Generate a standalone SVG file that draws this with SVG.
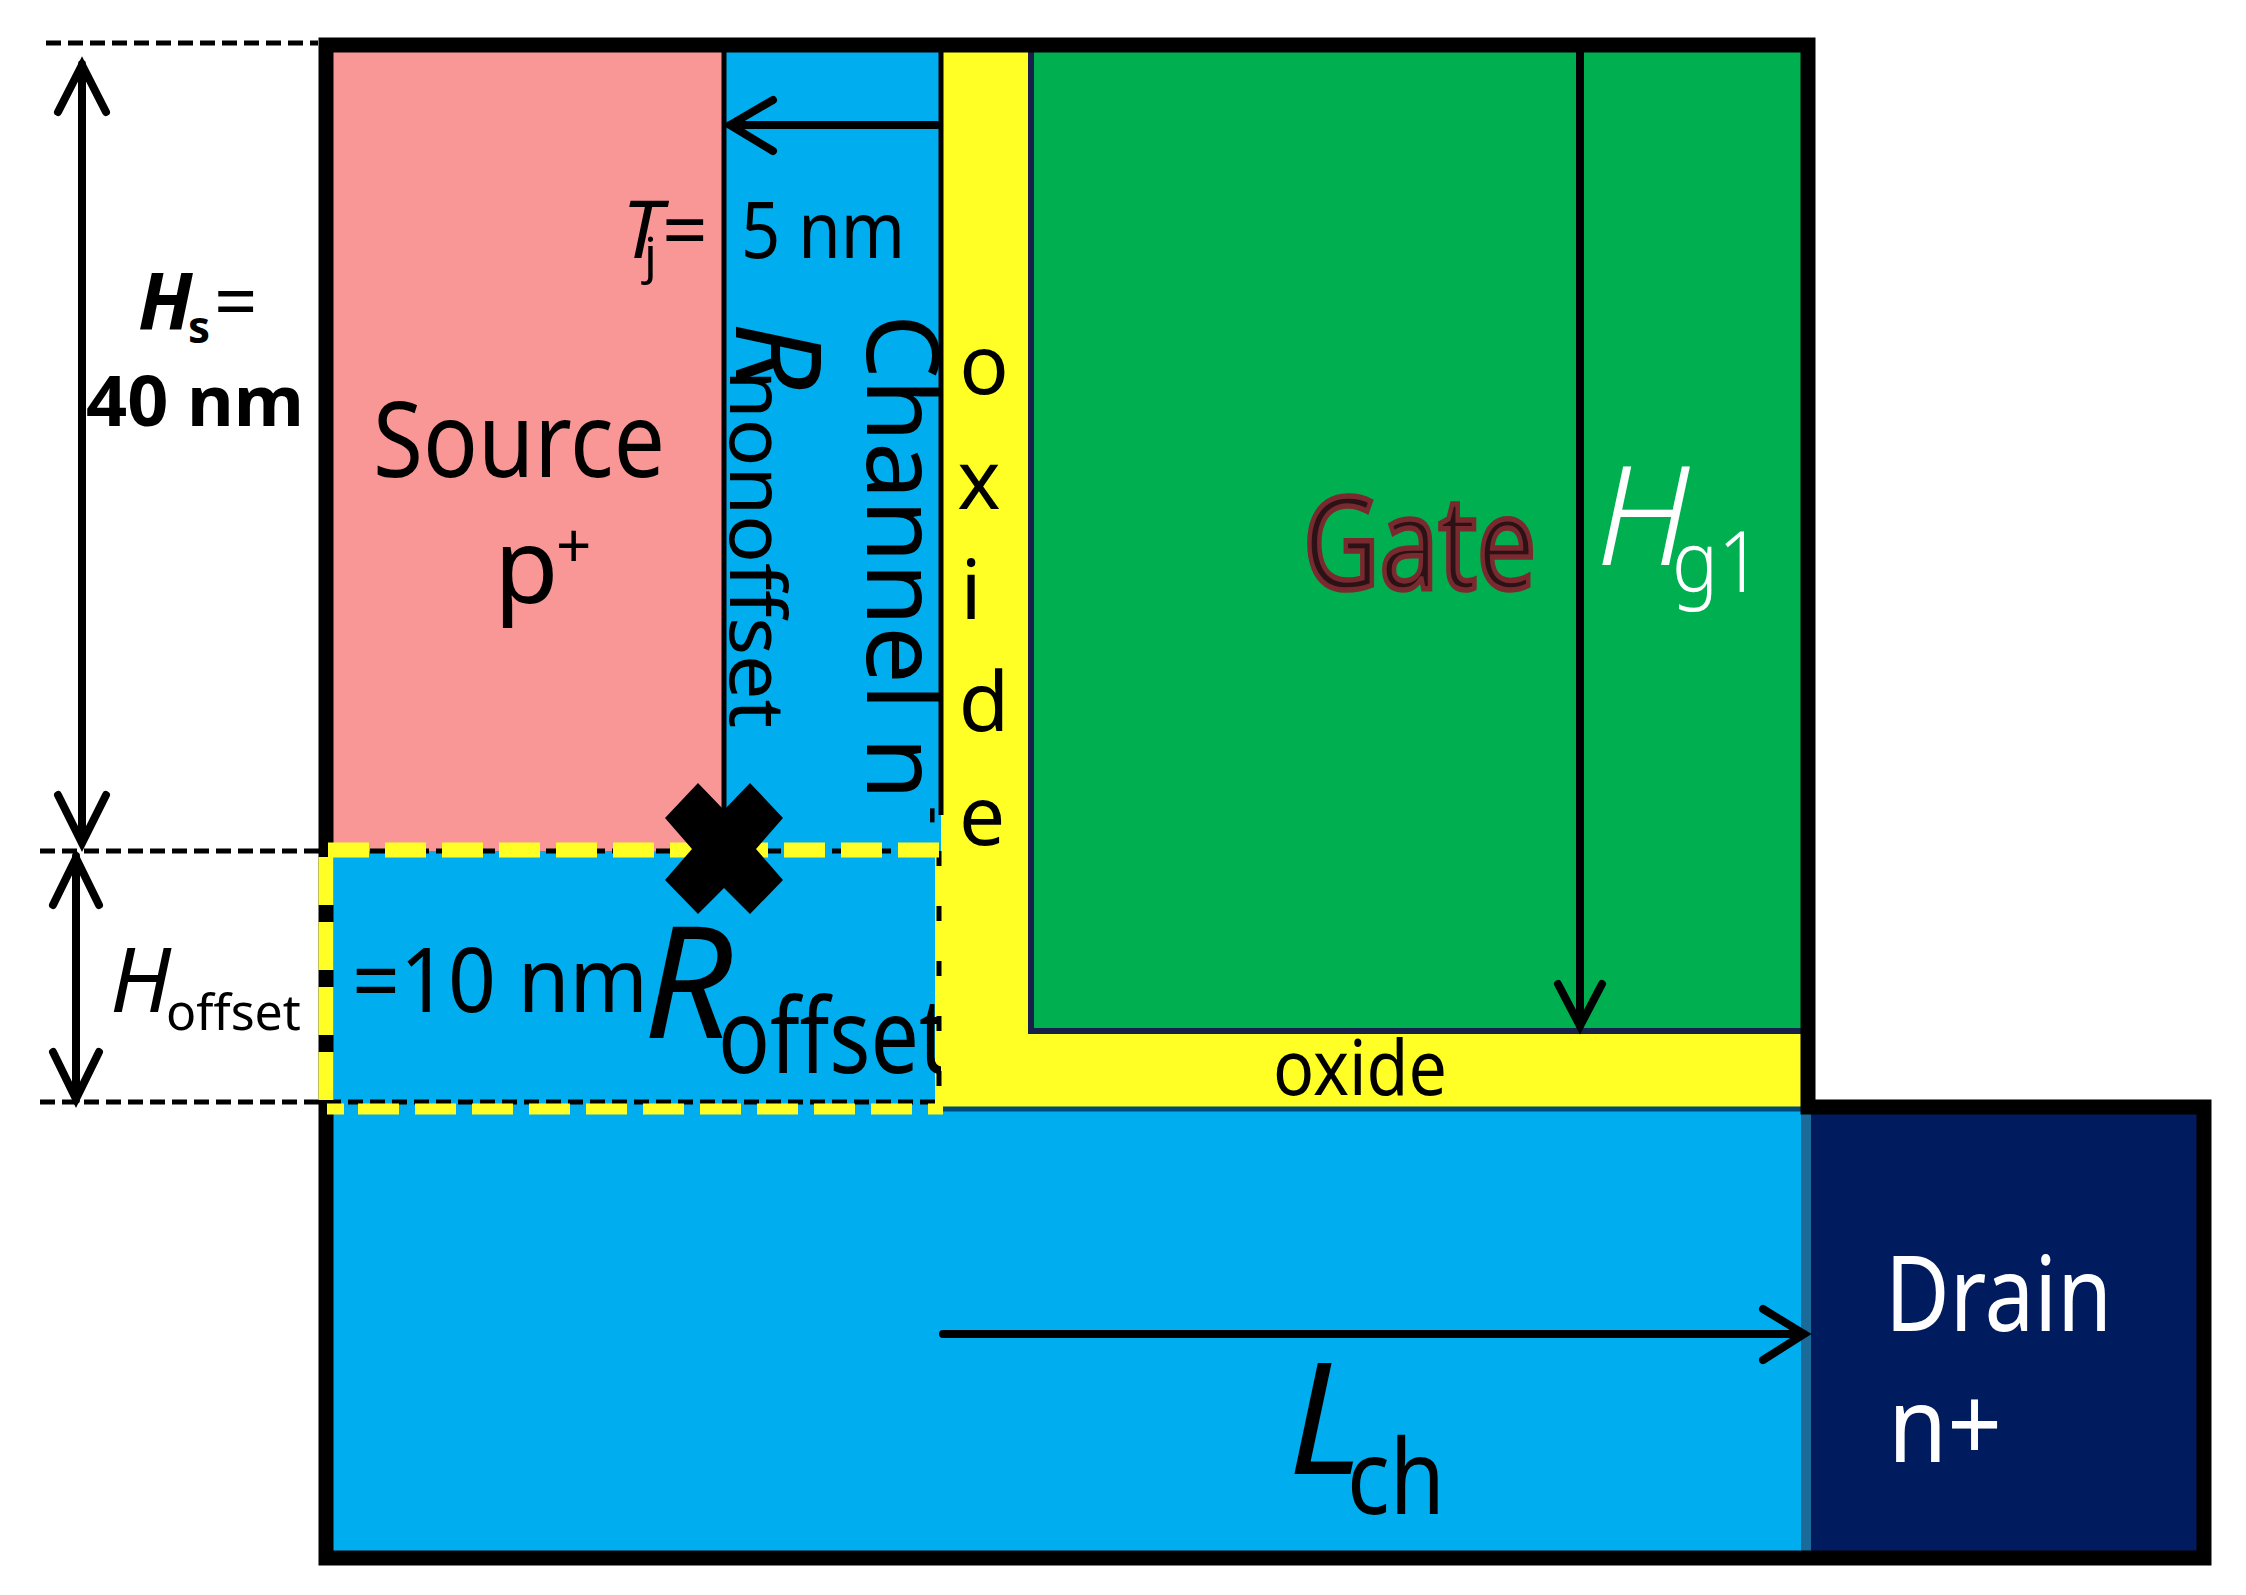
<svg xmlns="http://www.w3.org/2000/svg" width="2246" height="1595" viewBox="0 0 2246 1595">
<defs>
<style>
text{font-family:"Noto Sans","Open Sans","DejaVu Sans",sans-serif;fill:#000;}
.i{font-style:italic}
.b{font-weight:700}
.w{fill:#fff}
.dash{stroke:#000;stroke-width:5;stroke-dasharray:15 7;fill:none}
.arr{stroke:#000;fill:none;stroke-width:8;stroke-linecap:round;stroke-linejoin:miter}
.sep{stroke:#000;fill:none;stroke-width:5}
.yd{stroke:#FFFF26;fill:none;stroke-dasharray:41 16}
</style>
</defs>
<rect width="2246" height="1595" fill="#fff"/>
<g id="source"><rect x="330" y="50" width="394" height="805" fill="#F89796"/>
<text x="373" y="477" font-size="105" textLength="292" lengthAdjust="spacingAndGlyphs">Source</text>
<text x="494" y="603" font-size="105">p<tspan x="556" y="568" font-size="62">+</tspan></text></g>
<g id="channel"><rect x="724" y="50" width="217" height="805" fill="#00AEEF"/>
<text x="741" y="258" font-size="78" textLength="164" lengthAdjust="spacingAndGlyphs">5 nm</text>
<text transform="translate(736,322) rotate(90)" class="i" font-size="118">R</text>
<text transform="translate(730,370) rotate(90)" font-size="76" textLength="358" lengthAdjust="spacingAndGlyphs">nonoffset</text>
<text transform="translate(867,314) rotate(90)" font-size="100" textLength="486" lengthAdjust="spacingAndGlyphs">Channel n</text>
<text transform="translate(917,806) rotate(90)" font-size="58">-</text></g>
<g id="offset"><rect x="935" y="851" width="10" height="255" fill="#FFFF26"/><rect x="330" y="851" width="605" height="260" fill="#00AEEF"/>
<text x="352" y="1012" font-size="90" textLength="296" lengthAdjust="spacingAndGlyphs">=10 nm</text>
<text x="643" y="1038" class="i" font-size="156">R</text>
<text x="718" y="1073" font-size="105" textLength="232" lengthAdjust="spacingAndGlyphs">offset</text></g>
<g id="oxide"><path d="M941 50H1030V1030H1803V1108H941Z" fill="#FFFF26"/>
<text font-size="82" text-anchor="middle"><tspan x="984" y="394">o</tspan><tspan x="979" y="509">x</tspan><tspan x="971" y="619">i</tspan><tspan x="984" y="731">d</tspan><tspan x="982" y="845">e</tspan></text>
<text x="1273" y="1095" font-size="76" textLength="174" lengthAdjust="spacingAndGlyphs">oxide</text></g>
<g id="gate"><rect x="1031" y="50" width="772" height="980" fill="#00B050"/>
<text x="1303" y="589" font-size="128" textLength="233" lengthAdjust="spacingAndGlyphs" style="fill:#2a1216;stroke:#7a2a2e;stroke-width:5.5">Gate</text>
<text x="1596" y="565" class="i w" font-size="138" font-weight="300">H</text>
<text x="1672" y="592" class="w" font-size="84" font-weight="300" textLength="90" lengthAdjust="spacingAndGlyphs">g1</text></g>
<g id="body"><rect x="330" y="1108" width="1475" height="445" fill="#00AEEF"/>
<rect x="1801" y="1108" width="10" height="445" fill="#1A6A9A"/>
<text x="1288" y="1474" class="i" font-size="155">L</text>
<text x="1347" y="1514" font-size="105" textLength="98" lengthAdjust="spacingAndGlyphs">ch</text></g>
<g id="drain"><rect x="1811" y="1108" width="392" height="445" fill="#001B5E"/>
<text x="1885" y="1331" class="w" font-size="105" textLength="227" lengthAdjust="spacingAndGlyphs">Drain</text>
<text x="1888" y="1462" class="w" font-size="105" textLength="114" lengthAdjust="spacingAndGlyphs">n+</text></g>
<g id="connectors">
<line x1="724" y1="50" x2="724" y2="845" class="sep"/>
<line x1="941" y1="50" x2="941" y2="815" class="sep"/>
<path d="M1031 50V1031H1803" style="stroke:#16204a;stroke-width:6;fill:none"/>
<path d="M941 1109H1805" style="stroke:#004a7a;stroke-width:5;fill:none"/>
<path d="M326 45H1808V1107H2204V1558H326Z" style="stroke:#000;stroke-width:15;fill:none;stroke-linejoin:miter"/>
<line x1="46" y1="43" x2="318" y2="43" class="dash"/>
<line x1="40" y1="851" x2="940" y2="851" class="dash"/>
<line x1="40" y1="1102" x2="942" y2="1102" class="dash"/>
<line x1="939" y1="851" x2="939" y2="1102" style="stroke:#000;stroke-width:5;stroke-dasharray:15 40"/>
<line x1="326" y1="857" x2="326" y2="1102" style="stroke:#FFFF26;stroke-width:15;stroke-dasharray:48 17"/>
<line x1="328" y1="850" x2="943" y2="850" class="yd" style="stroke-width:15"/>
<line x1="358" y1="1109" x2="943" y2="1109" class="yd" style="stroke-width:11"/>
<line x1="327" y1="1109" x2="344" y2="1109" style="stroke:#FFFF26;stroke-width:11"/>
<path d="M82 64V842M58 112L82 65L106 112M58 795L82 843L106 795" class="arr"/>
<path d="M76 856V1100M53 905L76 858L99 905M53 1052L76 1099L99 1052" class="arr"/>
<path d="M937 125H730M773 100L730 125L773 151" class="arr"/>
<path d="M1580 52V1026M1558 984L1580 1026L1602 984" class="arr"/>
<path d="M943 1334H1804M1763 1309L1804 1334L1763 1360" class="arr"/>
<polygon points="724,810 698,783 665,818 692,849 665,880 698,914 724,888 750,914 783,880 756,849 783,818 750,783" fill="#000"/>
</g>
<g id="labels">
<text x="138" y="329" class="i b" font-size="78">H<tspan x="188" y="343" font-size="44" font-style="normal">s</tspan><tspan x="214" y="329" font-size="76" font-weight="400" font-style="normal">=</tspan></text>
<text x="86" y="426" class="b" font-size="70" textLength="218" lengthAdjust="spacingAndGlyphs">40 nm</text>
<text x="622" y="258" class="i" font-size="80">T<tspan x="644" y="273" font-size="50" font-style="normal">j</tspan><tspan x="662" y="258" font-size="80" font-style="normal">=</tspan></text>
<text x="110" y="1012" class="i" font-size="90">H<tspan x="166" y="1030" font-size="50" font-style="normal">offset</tspan></text>
</g>
</svg>
